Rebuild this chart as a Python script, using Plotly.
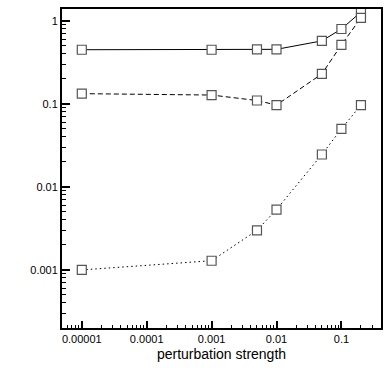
import plotly.graph_objects as go

strength = [0.00001, 0.001, 0.005, 0.01, 0.05, 0.1, 0.2]
series_solid = [0.45, 0.45, 0.455, 0.455, 0.575, 0.80, 1.28]
series_dashed = [0.133, 0.128, 0.110, 0.097, 0.23, 0.515, 1.09]
series_dotted = [0.001, 0.00129, 0.0030, 0.00534, 0.0246, 0.050, 0.097]

x_ticks = [0.00001, 0.0001, 0.001, 0.01, 0.1]
x_labels = ['0.00001', '0.0001', '0.001', '0.01', '0.1']
y_ticks = [0.001, 0.01, 0.1, 1]
y_labels = ['0.001', '0.01', '0.1', '1']

font = 'Liberation Sans, Arial, sans-serif'


def minor_vals(lo_exp, hi_exp):
    vals = []
    for e in range(lo_exp, hi_exp + 1):
        for d in range(2, 10):
            vals.append(d * 10.0 ** e)
    return vals


fig = go.Figure()
for ys, dash in [(series_solid, 'solid'), (series_dashed, '5px,3px'), (series_dotted, '1.5px,3px')]:
    fig.add_trace(go.Scatter(
        x=strength, y=ys, mode='lines+markers',
        line={'color': 'black', 'width': 1, 'dash': dash},
        marker={'symbol': 'square', 'size': 9, 'color': 'white',
                'line': {'width': 1.2, 'color': '#555555'}},
        showlegend=False,
    ))

axis_common = {
    'type': 'log',
    'showline': True,
    'linewidth': 2,
    'linecolor': 'black',
    'mirror': True,
    'showgrid': False,
    'zeroline': False,
    'ticks': 'inside',
    'tickcolor': 'black',
    'tickwidth': 2,
    'tickfont': {'size': 11, 'color': 'black', 'family': font},
}

fig.update_layout(
    width=390, height=390,
    margin={'l': 62, 'r': 7, 't': 7, 'b': 62},
    plot_bgcolor='white',
    paper_bgcolor='white',
    xaxis={
        **axis_common,
        'range': [-5.305, -0.39],
        'tickvals': x_ticks,
        'ticktext': x_labels,
        'ticklen': 7,
        'minor': {'tickvals': minor_vals(-6, -1), 'ticks': 'inside', 'ticklen': 3,
                  'tickwidth': 1, 'tickcolor': 'black', 'showgrid': False},
        'title': {'text': 'perturbation strength', 'font': {'size': 14, 'color': 'black', 'family': font}, 'standoff': 5},
    },
    yaxis={
        **axis_common,
        'range': [-3.7, 0.144],
        'tickvals': y_ticks,
        'ticktext': y_labels,
        'ticklen': 8,
        'minor': {'tickvals': minor_vals(-4, 0), 'ticks': 'inside', 'ticklen': 4,
                  'tickwidth': 1, 'tickcolor': 'black', 'showgrid': False},
    },
)

fig.write_html('out.html', config={'displayModeBar': False},
               post_script="document.body.style.margin='0';")
